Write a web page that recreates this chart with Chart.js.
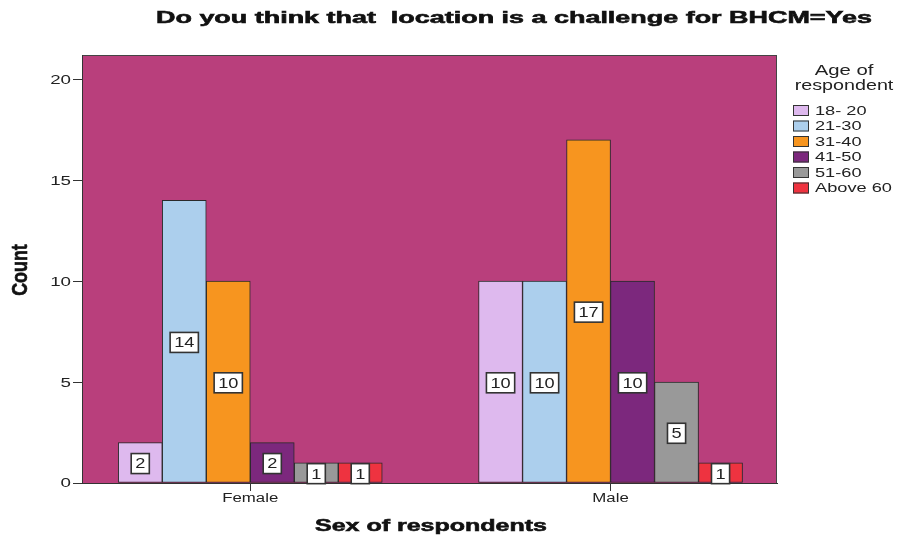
<!DOCTYPE html>
<html>
<head>
<meta charset="utf-8">
<script src="https://cdn.jsdelivr.net/npm/chart.js@4"></script>
<style>
  html, body { margin: 0; background: #fff; }
</style>
</head>
<body>
<canvas id="chart" width="899" height="540"></canvas>
<script>
/* ---- data ---- */
const groups = ['Female', 'Male'];
const ageGroups = ['18- 20', '21-30', '31-40', '41-50', '51-60', 'Above 60'];
const femaleCounts = [2, 14, 10, 2, 1, 1];
const maleCounts = [10, 10, 17, 10, 5, 1];
const yTicks = [0, 5, 10, 15, 20];

const ageColors = ['#DEB9EE', '#ACCFED', '#F7951F', '#7C287D', '#999999', '#EE3340'];
const plotBg = '#B93F7C';
const FONT = '"Liberation Sans", Arial, sans-serif';
const SX = 1.4; // the SPSS export is stretched sideways, so is its text

// draw text stretched horizontally by sx (sy for the other direction)
function wideText(ctx, txt, x, y, sx, align, bold) {
  ctx.save();
  ctx.translate(x, y);
  ctx.scale(sx, 1);
  ctx.textAlign = align || 'center';
  ctx.fillText(txt, 0, 0);
  if (bold) {
    ctx.strokeStyle = ctx.fillStyle;
    ctx.lineWidth = 0.6;
    ctx.strokeText(txt, 0, 0);
  }
  ctx.restore();
}

/* ---- plugins ---- */
const plotArea = {
  id: 'plotArea',
  beforeDraw(chart) {
    const { ctx, chartArea: a } = chart;
    ctx.save();
    ctx.fillStyle = plotBg;
    ctx.fillRect(a.left, a.top, a.right - a.left, a.bottom - a.top);
    ctx.strokeStyle = '#444';
    ctx.lineWidth = 1;
    ctx.strokeRect(a.left + 0.5, a.top + 0.5, a.right - a.left - 1, a.bottom - a.top);
    ctx.restore();
  }
};

const axisText = {
  id: 'axisText',
  afterDraw(chart) {
    const { ctx, scales: { x, y } } = chart;
    ctx.save();
    ctx.fillStyle = '#222';
    ctx.textBaseline = 'middle';
    ctx.font = '12.5px ' + FONT;
    y.ticks.forEach(t => wideText(ctx, String(t.value), 71, y.getPixelForValue(t.value) + 1, 1.5, 'right'));
    ctx.font = '12px ' + FONT;
    x.ticks.forEach((t, i) => wideText(ctx, groups[i], x.getPixelForValue(t.value), 499, SX, 'center'));

    // axis titles
    ctx.fillStyle = '#111';
    ctx.font = 'bold 17px ' + FONT;
    const xt = 'Sex of respondents';
    wideText(ctx, xt, 431, 526, 232 / ctx.measureText(xt).width, 'center', true);
    ctx.save();
    ctx.translate(21, 270);
    ctx.rotate(-Math.PI / 2);
    ctx.scale(1.05, 1.3);
    ctx.textAlign = 'center';
    ctx.fillText('Count', 0, 0);
    ctx.strokeStyle = '#111';
    ctx.lineWidth = 0.5;
    ctx.strokeText('Count', 0, 0);
    ctx.restore();

    // chart title
    const tt = 'Do you think that  location is a challenge for BHCM=Yes';
    wideText(ctx, tt, 156, 18, 716 / ctx.measureText(tt).width, 'left', true);
    ctx.restore();
  }
};

const barLabels = {
  id: 'barLabels',
  afterDatasetsDraw(chart) {
    const ctx = chart.ctx;
    ctx.save();
    ctx.font = '14px ' + FONT;
    ctx.textBaseline = 'middle';
    chart.data.datasets.forEach((ds, i) => {
      chart.getDatasetMeta(i).data.forEach((bar, j) => {
        const txt = String(ds.data[j].y);
        const cx = bar.x, cy = (bar.y + bar.base) / 2 + 1;
        const w = ctx.measureText(txt).width * 1.3 + 8, h = 20;
        ctx.fillStyle = '#fff';
        ctx.fillRect(cx - w / 2, cy - h / 2, w, h);
        ctx.strokeStyle = '#333';
        ctx.lineWidth = 1.6;
        ctx.strokeRect(cx - w / 2, cy - h / 2, w, h);
        ctx.fillStyle = '#222';
        wideText(ctx, txt, cx, cy + 1, 1.3, 'center');
      });
    });
    ctx.restore();
  }
};

const sideLegend = {
  id: 'sideLegend',
  afterDraw(chart) {
    const ctx = chart.ctx;
    ctx.save();
    ctx.fillStyle = '#222';
    ctx.textBaseline = 'middle';
    ctx.font = '14.5px ' + FONT;
    wideText(ctx, 'Age of', 844, 71, SX, 'center');
    wideText(ctx, 'respondent', 844, 86, 1.36, 'center');
    ctx.font = '13px ' + FONT;
    chart.data.datasets.forEach((ds, i) => {
      const y = 110 + i * 15.5;
      ctx.fillStyle = ds.backgroundColor;
      ctx.fillRect(793, y - 5, 16, 11);
      ctx.strokeStyle = '#333';
      ctx.lineWidth = 1;
      ctx.strokeRect(793.5, y - 4.5, 15, 10);
      ctx.fillStyle = '#222';
      wideText(ctx, ds.label, 815, y + 1, SX, 'left');
    });
    ctx.restore();
  }
};

/* ---- chart ---- */
new Chart(document.getElementById('chart'), {
  type: 'bar',
  data: {
    datasets: ageGroups.map((label, i) => ({
      label,
      data: [{ x: 0, y: femaleCounts[i] }, { x: 1, y: maleCounts[i] }],
      backgroundColor: ageColors[i],
      borderColor: '#2a2a2a',
      borderWidth: 1,
      borderSkipped: false,
      barThickness: 44
    }))
  },
  options: {
    responsive: false,
    animation: false,
    devicePixelRatio: 1,
    layout: { padding: { top: 55, right: 122, left: 0, bottom: 0 } },
    plugins: {
      legend: { display: false },
      tooltip: { enabled: false },
      title: { display: false }
    },
    scales: {
      x: {
        type: 'linear',
        min: -0.467,
        max: 1.462,
        offset: false,
        afterBuildTicks(scale) { scale.ticks = groups.map((g, i) => ({ value: i })); },
        afterFit(scale) { scale.height = 57; },
        ticks: { display: false },
        grid: { offset: false, drawOnChartArea: false, tickLength: 8, color: '#333' },
        border: { display: true, color: '#333' }
      },
      y: {
        min: 0,
        max: 21.2,
        afterBuildTicks(scale) { scale.ticks = yTicks.map(v => ({ value: v })); },
        afterFit(scale) { scale.width = 82; },
        ticks: { display: false },
        grid: { drawOnChartArea: false, tickLength: 9, color: '#333' },
        border: { display: true, color: '#333' }
      }
    }
  },
  plugins: [plotArea, barLabels, axisText, sideLegend]
});
</script>
</body>
</html>
